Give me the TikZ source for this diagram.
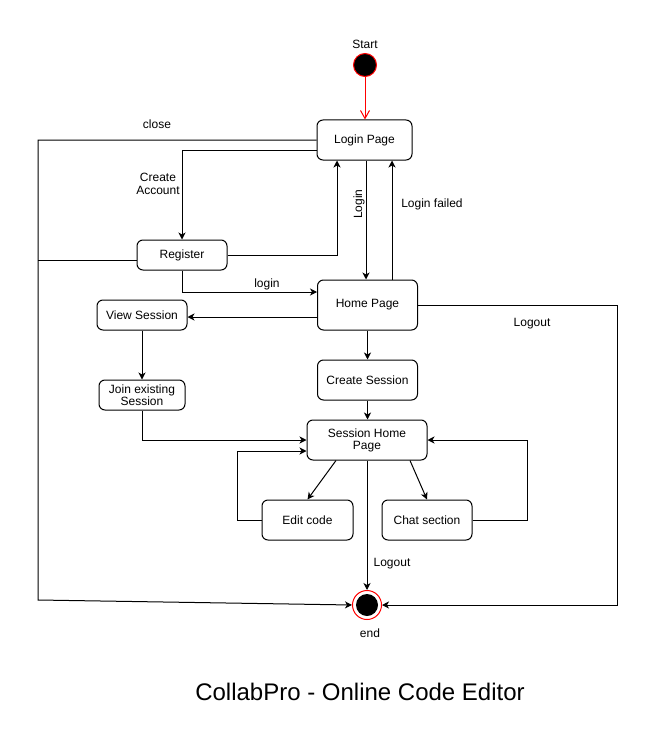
\documentclass[tikz,border=0pt]{standalone}
\usepackage{fontspec}
\setmainfont{Liberation Sans}
\usetikzlibrary{arrows.meta}
\begin{document}
\begin{tikzpicture}[x=1pt,y=-1pt,line width=1pt,
  every node/.style={font=\fontsize{12}{14}\selectfont},
  statebox/.style={draw, rounded corners=6pt, fill=white, align=center, inner sep=0pt},
  arr/.style={-{Stealth[length=7pt,width=7pt,inset=2pt]}},
  lbl/.style={align=center, inner sep=0pt}]
\useasboundingbox (0,0) rectangle (656,741);
% states
\node[circle, draw=red, fill=black, minimum size=23pt, inner sep=0pt] (start) at (365,65) {};
\node[statebox, minimum width=95pt, minimum height=40pt] (login) at (364.5,140) {Login Page};
\node[statebox, minimum width=90pt, minimum height=30pt] (reg) at (182,255) {Register};
\node[statebox, minimum width=100pt, minimum height=50pt] (home) at (367.5,305) {Home Page};
\node[statebox, minimum width=90pt, minimum height=30pt] (view) at (142,315) {View Session};
\node[statebox, minimum width=86pt, minimum height=30pt] (join) at (142,395) {Join existing\\[-2pt]Session};
\node[statebox, minimum width=100pt, minimum height=40pt] (create) at (367.5,380) {Create Session};
\node[statebox, minimum width=120pt, minimum height=40pt] (shome) at (367,440) {Session Home\\[-2pt]Page};
\node[statebox, minimum width=91pt, minimum height=40pt] (edit) at (307.5,520) {Edit code};
\node[statebox, minimum width=90pt, minimum height=40pt] (chat) at (427,520) {Chat section};
\node[circle, draw=red, fill=white, minimum size=29pt, inner sep=0pt] (end) at (367,605) {};
\fill (end.center) circle (11pt);
% coordinates for corners
\coordinate (cl1) at (38,140);
\coordinate (cl2) at (38,600);
\coordinate (lo1) at (617,305);
\coordinate (lo2) at (617,605);
\coordinate (ed1) at (237,520);
\coordinate (ch1) at (527,520);
% connectors
\draw[red, -{Straight Barb[length=8pt,width=9pt]}] (start.south) -- (start.south |- login.north);
\draw[arr] (login.west) -- (cl1) -- (cl2) -- (end.west);
\draw[arr] ([yshift=-10pt]login.west) -| (reg.north);
\draw ([yshift=-5pt]reg.west) -- (cl1 |- 0,260);
\draw[arr] (reg.east) -| ([xshift=-27.5pt]login.south);
\draw[arr] (reg.south) |- ([yshift=13pt]home.west);
\draw[arr] ([xshift=1.5pt]login.south) -- ([xshift=-1.5pt]home.north);
\draw[arr] ([xshift=24.5pt]home.north) -- ([xshift=24.5pt]home.north |- login.south);
\draw[arr] (home.east) -- (lo1) -- (lo2) -- (end.east);
\draw[arr] ([yshift=-12pt]home.west) -- (view.east |- 0,317);
\draw[arr] (view.south) -- (join.north);
\draw[arr] (join.south) |- (shome.west);
\draw[arr] (home.south) -- (create.north);
\draw[arr] (create.south) -- (create.south |- shome.north);
\draw[arr] ([xshift=-31pt]shome.south) -- (edit.north);
\draw[arr] (edit.west) -- (ed1) |- ([yshift=-11pt]shome.west);
\draw[arr] ([xshift=43pt]shome.south) -- (chat.north);
\draw[arr] (chat.east) -- (ch1) |- (shome.east);
\draw[arr] (shome.south) -- (end.north);
% labels
\node[lbl] (tstart) at (365,44) {Start};
\node[lbl] (tclose) at (157,124) {close};
\node[lbl] (tcreate) at (158,184) {Create\\[-1pt]Account};
\node[lbl, rotate=90] (tlogin) at (359,204) {Login};
\node[lbl] (tfail) at (432,204) {Login failed};
\node[lbl] (tlogin2) at (267,284) {login};
\node[lbl] (tlogout) at (532,324) {Logout};
\node[lbl] (tlogout2) at (392,564) {Logout};
\node[lbl] (tend) at (370,633) {end};
\node[lbl, font=\fontsize{24}{27}\selectfont] (title) at (360,692) {CollabPro - Online Code Editor};
\end{tikzpicture}
\end{document}
